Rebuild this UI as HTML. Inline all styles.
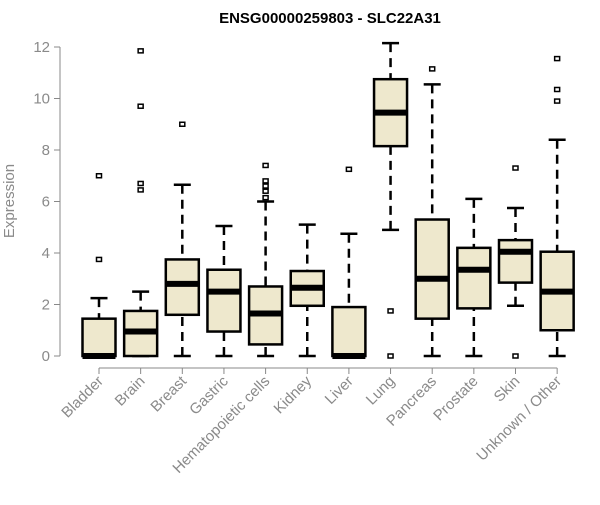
<!DOCTYPE html>
<html><head><meta charset="utf-8"><style>
body{margin:0;background:#fff;}
svg text{font-family:"Liberation Sans",Arial,sans-serif;}
</style></head><body>
<svg id="chart" width="600" height="500">
<text x="330" y="23" text-anchor="middle" font-size="15" font-weight="bold">ENSG00000259803 - SLC22A31</text>
<text x="14" y="201" text-anchor="middle" font-size="15" fill="#8a8a8a" transform="rotate(-90 14 201)">Expression</text>
<g id="yaxis"></g>
<g id="xaxis"></g>
<g id="boxes"></g>
</svg>
<script>
const categories=["Bladder","Brain","Breast","Gastric","Hematopoietic cells","Kidney","Liver","Lung","Pancreas","Prostate","Skin","Unknown / Other"];
const whiskerLow=[0,0,0,0,0,0,0,4.9,0,0,1.95,0];
const q1=[0,0,1.6,0.95,0.45,1.95,0,8.15,1.45,1.85,2.85,1.0];
const medians=[0,0.95,2.8,2.5,1.65,2.65,0,9.45,3.0,3.35,4.05,2.5];
const q3=[1.45,1.75,3.75,3.35,2.7,3.3,1.9,10.75,5.3,4.2,4.5,4.05];
const whiskerHigh=[2.25,2.5,6.65,5.05,6.0,5.1,4.75,12.15,10.55,6.1,5.75,8.4];
const outliers=[[3.75,7.0],[6.45,6.7,9.7,11.85],[9.0],[],[6.15,6.4,6.6,6.8,7.4],[],[7.25],[1.75,0],[11.15],[],[7.3,0],[9.9,10.35,11.55]];
const yTicks=[0,2,4,6,8,10,12];

const NS="http://www.w3.org/2000/svg";
const y=v=>356-v*25.75;
const x=i=>99+i*41.65;
function mk(tag,attrs,parent){const e=document.createElementNS(NS,tag);for(const k in attrs)e.setAttribute(k,attrs[k]);parent.appendChild(e);return e;}
const ya=document.getElementById('yaxis'),xa=document.getElementById('xaxis'),bx=document.getElementById('boxes');
mk('line',{x1:60,x2:60,y1:y(0),y2:y(12),stroke:'#888'},ya);
yTicks.forEach(t=>{
  mk('line',{x1:54,x2:60,y1:y(t),y2:y(t),stroke:'#888'},ya);
  const tx=mk('text',{x:50,y:y(t)+5,'text-anchor':'end','font-size':15,fill:'#8a8a8a'},ya);
  tx.textContent=t;
  
  
});
mk('line',{x1:x(0),x2:x(11),y1:368,y2:368,stroke:'#888'},xa);
categories.forEach((c,i)=>{
  mk('line',{x1:x(i),x2:x(i),y1:368,y2:374,stroke:'#888'},xa);
  const tx=mk('text',{x:x(i)+5,y:382,'text-anchor':'end','font-size':15,fill:'#8a8a8a',transform:`rotate(-45 ${x(i)+5} 382)`},xa);
  tx.textContent=c;
  
  
  const g=mk('g',{},bx);
  
  
  const cx=x(i),hw=16.5,cw=8.5;
  mk('line',{x1:cx,x2:cx,y1:y(whiskerHigh[i]),y2:y(q3[i]),stroke:'#000','stroke-width':2.5,'stroke-dasharray':'9,6'},g);
  mk('line',{x1:cx,x2:cx,y1:y(whiskerLow[i]),y2:y(q1[i]),stroke:'#000','stroke-width':2.5,'stroke-dasharray':'9,6'},g);
  mk('line',{x1:cx-cw,x2:cx+cw,y1:y(whiskerHigh[i]),y2:y(whiskerHigh[i]),stroke:'#000','stroke-width':2.5},g);
  mk('line',{x1:cx-cw,x2:cx+cw,y1:y(whiskerLow[i]),y2:y(whiskerLow[i]),stroke:'#000','stroke-width':2.5},g);
  mk('rect',{x:cx-hw,y:y(q3[i]),width:2*hw,height:Math.max(y(q1[i])-y(q3[i]),0.1),fill:'#EEE8CD',stroke:'#000','stroke-width':2.5},g);
  mk('line',{x1:cx-hw,x2:cx+hw,y1:y(medians[i]),y2:y(medians[i]),stroke:'#000','stroke-width':6},g);
  outliers[i].forEach(o=>{
    const r=mk('rect',{x:cx-2.5,y:y(o)-2,width:5,height:4,fill:'none',stroke:'#000','stroke-width':1.5},g);
    
    
  });
});
</script>
</body></html>
